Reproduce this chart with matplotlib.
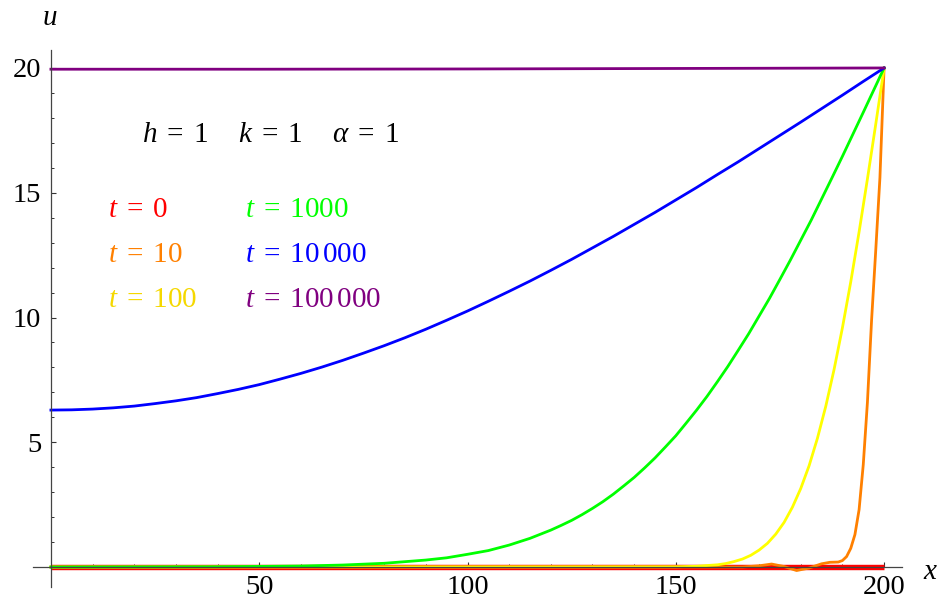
import matplotlib
matplotlib.use("Agg")
import matplotlib.pyplot as plt
from matplotlib.ticker import MultipleLocator

plt.rcParams['font.family'] = 'serif'
plt.rcParams['font.serif'] = ['Liberation Serif', 'DejaVu Serif']
plt.rcParams['mathtext.fontset'] = 'custom'
plt.rcParams['mathtext.rm'] = 'Liberation Serif'
plt.rcParams['mathtext.it'] = 'Liberation Serif:italic'

# values
x_t0 = [0, 200]
u_t0 = [0, 0]

x_t10 = [0, 160, 166, 170, 173, 176, 179, 182, 185, 187, 189, 190, 191,
         192, 193, 194, 195, 196, 197, 198, 199, 200]
u_t10 = [0, 0, 0.0, 0.05, 0.12, 0.02, -0.14, -0.04, 0.13, 0.19, 0.2, 0.26,
         0.42, 0.75, 1.3, 2.3, 4.1, 6.6, 9.9, 12.7, 15.6, 20]

x_t100 = [0, 150, 155, 160, 162, 164, 166, 168, 170, 172, 174, 176, 178,
          180, 182, 184, 186, 188, 190, 192, 194, 196, 198, 200]
u_t100 = [0, 0.01, 0.03, 0.09, 0.14, 0.22, 0.32, 0.47, 0.68, 0.95, 1.32,
          1.79, 2.40, 3.15, 4.06, 5.16, 6.44, 7.92, 9.59, 11.43, 13.43,
          15.55, 17.75, 20]

x_t1000 = [0, 40, 60, 70, 80, 90, 95, 100, 105, 110, 115, 120, 122.5, 125,
           127.5, 130, 132.5, 135, 137.5, 140, 142.5, 145, 147.5, 150, 152.5,
           155, 157.5, 160, 162.5, 165, 167.5, 170, 172.5, 175, 177.5, 180,
           182.5, 185, 187.5, 190, 192.5, 195, 197.5, 200]
u_t1000 = [0, 0.01, 0.04, 0.08, 0.15, 0.28, 0.37, 0.51, 0.66, 0.88, 1.15,
           1.48, 1.67, 1.87, 2.10, 2.35, 2.62, 2.92, 3.25, 3.59, 3.97, 4.37,
           4.81, 5.26, 5.77, 6.29, 6.84, 7.43, 8.04, 8.69, 9.35, 10.06,
           10.77, 11.53, 12.30, 13.10, 13.90, 14.75, 15.60, 16.46, 17.34,
           18.22, 19.11, 20]

x_t10000 = [0, 5, 10, 15, 20, 25, 30, 35, 40, 45, 50, 55, 60, 65, 70, 75,
            80, 85, 90, 95, 100, 105, 110, 115, 120, 125, 130, 135, 140,
            145, 150, 155, 160, 165, 170, 175, 180, 185, 190, 195, 200]
u_t10000 = [6.29, 6.30, 6.33, 6.38, 6.45, 6.55, 6.66, 6.79, 6.95, 7.12,
            7.31, 7.53, 7.76, 8.01, 8.28, 8.57, 8.87, 9.19, 9.53, 9.89,
            10.26, 10.65, 11.05, 11.46, 11.89, 12.33, 12.79, 13.25, 13.73,
            14.21, 14.71, 15.21, 15.73, 16.24, 16.77, 17.30, 17.83, 18.37,
            18.91, 19.46, 20]

x_t100000 = [0, 50, 100, 150, 200]
u_t100000 = [19.95, 19.95, 19.96, 19.98, 20]

labels = [r"$t\;=\;0$", r"$t\;=\;10$", r"$t\;=\;100$",
          r"$t\;=\;1000$", r"$t\;=\;10\,000$", r"$t\;=\;100\,000$"]
line_colors = ["#ff0000", "#ff8000", "#ffff00", "#00ff00", "#0000ff", "#800080"]
text_colors = ["#ff0000", "#ff8000", "#f5d800", "#00ff00", "#0000ff", "#800080"]

fig = plt.figure(figsize=(9.43, 6.09), dpi=100)
ax = fig.add_axes([33 / 943, 22 / 609, 869 / 943, 537 / 609])

ax.plot(x_t0, u_t0, color=line_colors[0], lw=3.9, solid_capstyle='butt', zorder=2)
series = [(x_t10, u_t10), (x_t100, u_t100), (x_t1000, u_t1000),
          (x_t10000, u_t10000), (x_t100000, u_t100000)]
for (xs, us), c in zip(series, line_colors[1:]):
    ax.plot(xs, us, color=c, lw=2.0, zorder=3)

ax.set_xlim(-4.3, 204.3)
ax.set_ylim(-0.8, 20.72)

for side in ['top', 'right']:
    ax.spines[side].set_visible(False)
for side in ['left', 'bottom']:
    ax.spines[side].set_position(('data', 0))
    ax.spines[side].set_color('#444444')
    ax.spines[side].set_linewidth(0.9)
    ax.spines[side].set_zorder(5)

ax.xaxis.set_minor_locator(MultipleLocator(10))
ax.yaxis.set_minor_locator(MultipleLocator(1))
ax.set_xticks([50, 100, 150, 200])
ax.set_yticks([5, 10, 15, 20])
ax.tick_params(which='major', direction='in', length=3.5, width=0.8,
               color='#333333', labelsize=20.5)
ax.tick_params(which='minor', direction='in', length=2, width=0.7,
               color='#333333')
ax.tick_params(axis='x', pad=6)
ax.tick_params(axis='y', pad=7)

fig.text(50 / 943, 1 - 18 / 609, r"$u$", fontsize=21, ha='center', va='center')
fig.text(931 / 943, 1 - 572 / 609, r"$x$", fontsize=21, ha='center', va='center')

ax.text(21.8, 17.3, r"$h\;=\;1\quad\;\,k\;=\;1\quad\;\,\alpha\;=\;1$",
        fontsize=21, ha='left', va='center', color='black')

col_x = [13.7, 13.7, 13.7, 46.6, 46.6, 46.6]
row_y = [14.3, 12.5, 10.7, 14.3, 12.5, 10.7]
for lab, c, lx, ly in zip(labels, text_colors, col_x, row_y):
    ax.text(lx, ly, lab, fontsize=21, color=c, ha='left', va='center')

fig.savefig("out.png", dpi=100)
